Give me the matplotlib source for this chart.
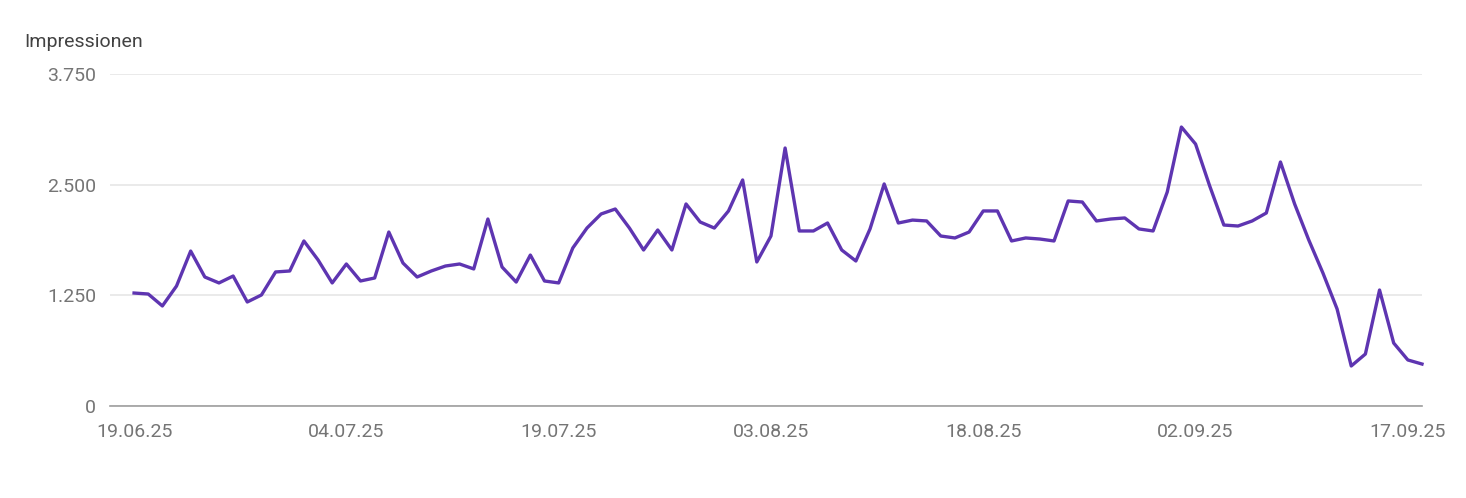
import matplotlib
matplotlib.use("Agg")
import matplotlib.pyplot as plt
import pandas as pd

plt.rcParams["font.family"] = ["Roboto", "DejaVu Sans"]

# daily impressions starting 19.06.25
start = "2025-06-19"
impressions = [1276, 1265, 1130, 1355, 1750, 1457, 1390, 1468, 1175, 1254,
               1514, 1525, 1864, 1650, 1390, 1604, 1412, 1446, 1965, 1615,
               1457, 1525, 1581, 1604, 1548, 2112, 1570, 1400, 1705, 1412,
               1390, 1785, 2010, 2169, 2225, 2010, 1762, 1988, 1762, 2282,
               2078, 2010, 2203, 2553, 1627, 1920, 2914, 1977, 1977, 2067,
               1762, 1638, 2000, 2508, 2067, 2100, 2090, 1920, 1898, 1965,
               2203, 2203, 1864, 1898, 1886, 1864, 2316, 2304, 2090, 2112,
               2124, 2000, 1977, 2417, 3151, 2959, 2485, 2044, 2033, 2090,
               2180, 2756, 2282, 1875, 1502, 1096, 452, 587, 1310, 711,
               520, 474]
dates = pd.date_range(start, periods=len(impressions), freq="D")
tick_idx = [0, 15, 30, 45, 60, 75, 90]
y_ticks = [0, 1250, 2500, 3750]

fig = plt.figure(figsize=(14.66, 4.98), dpi=100)
ax = fig.add_axes([110/1466, 92/498, 1312/1466, 332/498])
x = list(range(len(impressions)))
ax.plot(x, impressions, color="#5e35b1", lw=2.4, solid_joinstyle="round", clip_on=False, zorder=3)

ax.set_ylim(0, 3750)
ax.set_xlim(-1.7, 91.0)
ax.set_yticks(y_ticks)
ax.set_yticklabels([f"{v:,}".replace(",", ".") for v in y_ticks])
ax.set_xticks(tick_idx)
ax.set_xticklabels([dates[i].strftime("%d.%m.%y") for i in tick_idx])
ax.grid(axis="y", color="#e6e6e6", lw=1.2)
ax.set_axisbelow(True)
for s in ["top", "right", "left"]:
    ax.spines[s].set_visible(False)
ax.spines["bottom"].set_color("#9e9e9e")
ax.spines["bottom"].set_linewidth(1.2)
ax.tick_params(length=0, labelsize=14, colors="#757575", pad=12)
ax.tick_params(axis="y", pad=10)

fig.text(24/1466, 1 - 42/498, "Impressionen", fontsize=14, color="#424242", va="center")

fig.savefig("out.png", dpi=100)
